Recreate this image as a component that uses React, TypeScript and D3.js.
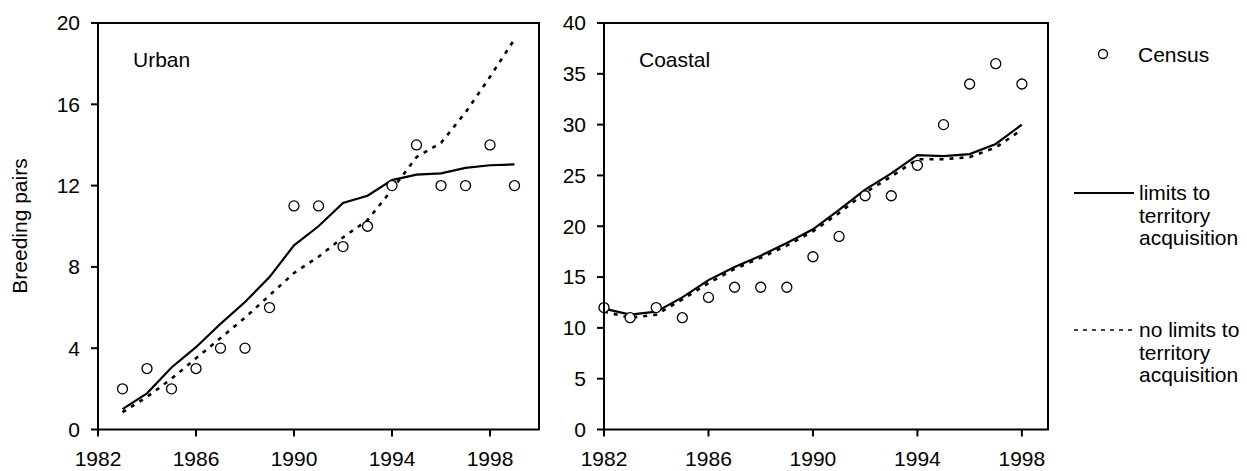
import React from "react";
import * as d3 from "d3";

const urbanYears = [1983, 1984, 1985, 1986, 1987, 1988, 1989, 1990, 1991, 1992, 1993, 1994, 1995, 1996, 1997, 1998, 1999];
const urbanCensus = [2, 3, 2, 3, 4, 4, 6, 11, 11, 9, 10, 12, 14, 12, 12, 14, 12];
const urbanLimits = [1.0, 1.78, 3.05, 4.05, 5.2, 6.27, 7.5, 9.06, 10.0, 11.15, 11.5, 12.27, 12.54, 12.6, 12.87, 13.0, 13.04];
const urbanNoLimits = [0.85, 1.6, 2.5, 3.5, 4.5, 5.5, 6.6, 7.7, 8.5, 9.45, 10.3, 11.8, 13.4, 14.1, 15.6, 17.35, 19.2];

const coastalYears = [1982, 1983, 1984, 1985, 1986, 1987, 1988, 1989, 1990, 1991, 1992, 1993, 1994, 1995, 1996, 1997, 1998];
const coastalCensus = [12, 11, 12, 11, 13, 14, 14, 14, 17, 19, 23, 23, 26, 30, 34, 36, 34];
const coastalLimits = [11.9, 11.3, 11.6, 13.0, 14.7, 16.0, 17.1, 18.35, 19.7, 21.6, 23.6, 25.2, 27.0, 26.9, 27.1, 28.1, 30.0];
const coastalNoLimits = [11.6, 11.0, 11.3, 12.8, 14.4, 15.8, 16.9, 18.1, 19.5, 21.3, 23.3, 24.9, 26.6, 26.6, 26.8, 27.75, 29.5];

const xTicks = [1982, 1986, 1990, 1994, 1998];
const urbanYTicks = [0, 4, 8, 12, 16, 20];
const coastalYTicks = [0, 5, 10, 15, 20, 25, 30, 35, 40];

const FONT = "'Liberation Sans', Arial, Helvetica, sans-serif";
const FS = 21;

type PanelProps = {
  x0: number; x1: number; xDomain: [number, number];
  yMax: number; yTicks: number[];
  years: number[]; census: number[]; limits: number[]; noLimits: number[];
  title: string;
};

const TOP = 23;
const BOTTOM = 429.5;

function Panel(p: PanelProps) {
  const x = d3.scaleLinear().domain(p.xDomain).range([p.x0, p.x1]);
  const y = d3.scaleLinear().domain([0, p.yMax]).range([BOTTOM, TOP]);
  const line = d3.line<[number, number]>().x(d => x(d[0])).y(d => y(d[1]));
  const solid = line(p.years.map((yr, i) => [yr, p.limits[i]]));
  const dashed = line(p.years.map((yr, i) => [yr, p.noLimits[i]]));
  return (
    <g>
      <path d={dashed || ""} fill="none" stroke="#000" strokeWidth={2.6} strokeDasharray="4,6" />
      <path d={solid || ""} fill="none" stroke="#000" strokeWidth={2.2} />
      {p.years.map((yr, i) => (
        <circle key={yr} cx={x(yr)} cy={y(p.census[i])} r={5} fill="#fff" stroke="#000" strokeWidth={1.3} />
      ))}
      <rect x={p.x0} y={TOP} width={p.x1 - p.x0} height={BOTTOM - TOP} fill="none" stroke="#000" strokeWidth={2} />
      {p.yTicks.map(t => (
        <g key={"y" + t}>
          <line x1={p.x0 - 7} x2={p.x0} y1={y(t)} y2={y(t)} stroke="#000" strokeWidth={2} />
          <text x={p.x0 - 18} y={y(t)} dy="0.35em" textAnchor="end" fontFamily={FONT} fontSize={FS}>{t}</text>
        </g>
      ))}
      {xTicks.map(t => (
        <g key={"x" + t}>
          <line x1={x(t)} x2={x(t)} y1={BOTTOM} y2={BOTTOM + 7} stroke="#000" strokeWidth={2} />
          <text x={x(t)} y={466} textAnchor="middle" fontFamily={FONT} fontSize={FS}>{t}</text>
        </g>
      ))}
      <text x={p.x0 + 35} y={67} fontFamily={FONT} fontSize={FS}>{p.title}</text>
    </g>
  );
}

export default function App() {
  return (
    <svg width={1247} height={471} style={{ position: "absolute", left: 0, top: 0, background: "#fff" }}>
      <rect x={0} y={0} width={1247} height={471} fill="#fff" />
      <Panel x0={98} x1={539} xDomain={[1982, 2000]} yMax={20} yTicks={urbanYTicks}
        years={urbanYears} census={urbanCensus} limits={urbanLimits} noLimits={urbanNoLimits} title="Urban" />
      <Panel x0={604} x1={1048} xDomain={[1982, 1999]} yMax={40} yTicks={coastalYTicks}
        years={coastalYears} census={coastalCensus} limits={coastalLimits} noLimits={coastalNoLimits} title="Coastal" />
      <text transform="translate(27,226) rotate(-90)" textAnchor="middle" fontFamily={FONT} fontSize={FS}>Breeding pairs</text>
      <circle cx={1103} cy={54} r={4.5} fill="#fff" stroke="#000" strokeWidth={1.3} />
      <text x={1138} y={61.5} fontFamily={FONT} fontSize={FS}>Census</text>
      <line x1={1074} x2={1134} y1={193} y2={193} stroke="#000" strokeWidth={2.2} />
      <text fontFamily={FONT} fontSize={FS}>
        <tspan x={1139} y={200}>limits to</tspan>
        <tspan x={1139} y={222.5}>territory</tspan>
        <tspan x={1139} y={245}>acquisition</tspan>
      </text>
      <line x1={1074} x2={1134} y1={330} y2={330} stroke="#000" strokeWidth={1.5} strokeDasharray="4,5" />
      <text fontFamily={FONT} fontSize={FS}>
        <tspan x={1139} y={337}>no limits to</tspan>
        <tspan x={1139} y={359.5}>territory</tspan>
        <tspan x={1139} y={382}>acquisition</tspan>
      </text>
    </svg>
  );
}
